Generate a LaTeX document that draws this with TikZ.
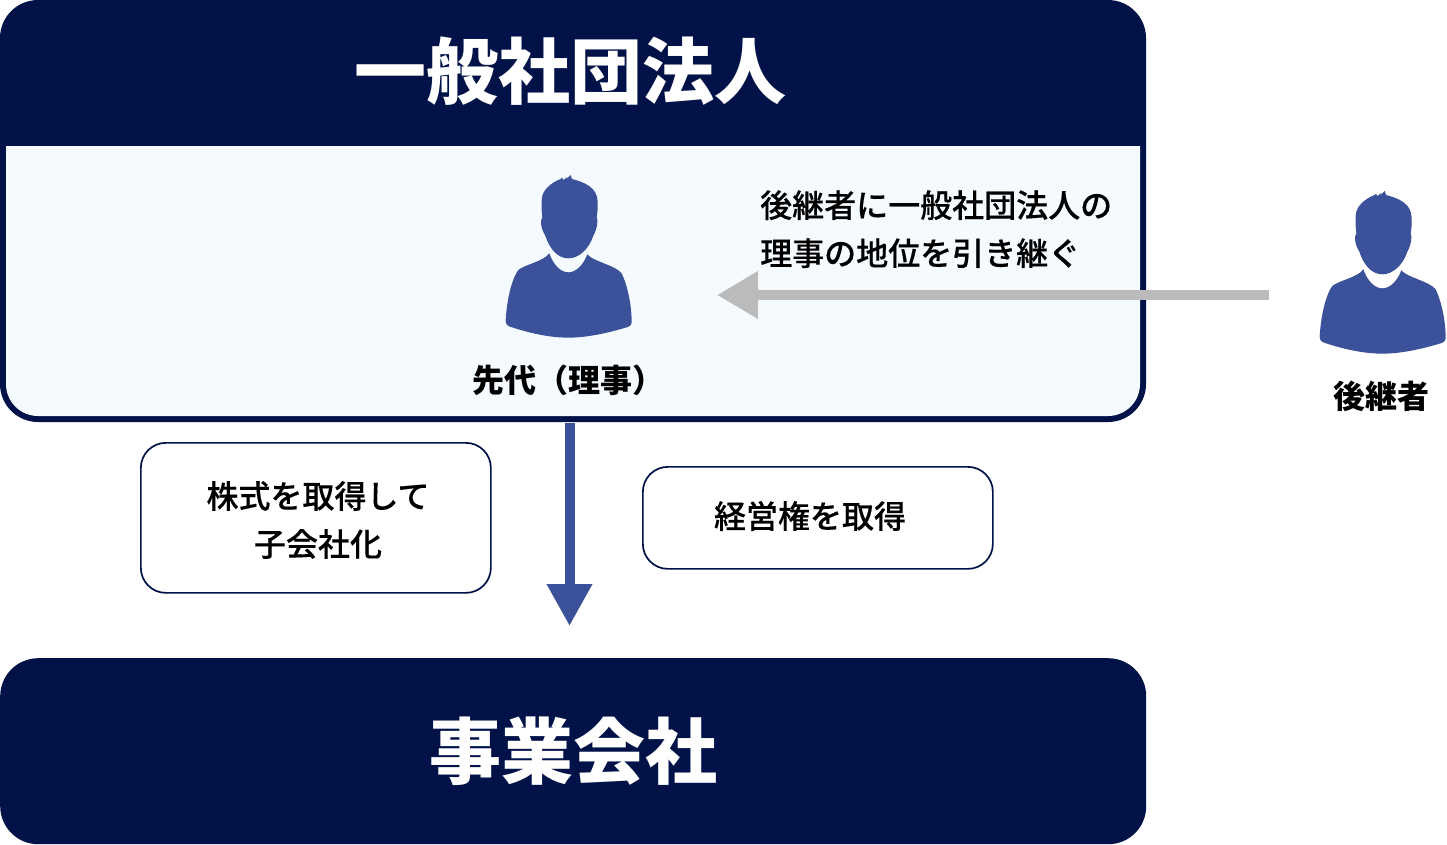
\documentclass[tikz,border=0pt]{standalone}
\usepackage{fontspec}
\setmainfont{Noto Sans CJK JP}
\newfontfamily\medfont[FakeBold=0.25]{Noto Sans CJK JP Medium}
\usetikzlibrary{arrows.meta}
\definecolor{navy}{HTML}{001247}
\definecolor{pale}{HTML}{F5FAFF}
\definecolor{blueish}{HTML}{3B5199}
\definecolor{arrowgray}{HTML}{BBBBBB}
\tikzset{
  x=1pt,y=-1pt,
  big/.style={font=\fontsize{72}{80}\selectfont\bfseries,text=white,inner sep=0pt},
  label/.style={font=\medfont\fontsize{32}{48}\selectfont,text=black,inner sep=0pt,align=left},
  blabel/.style={font=\fontsize{32}{40}\selectfont\bfseries,text=black,inner sep=0pt},
  note/.style={draw=navy,line width=1.7pt,rounded corners=25pt,fill=white,anchor=north west,inner sep=0pt},
  flow/.style={line width=10pt},
  pics/person/.style={code={
    \fill[blueish,x=0.3333pt,y=-0.3333pt]
      (155,105) .. controls (155,75) and (185,52) .. (212,42)
      -- (216,38) -- (220,45) -- (232,36) -- (228,44) -- (242,30) -- (246,42)
      .. controls (285,52) and (322,68) .. (323,110)
      .. controls (324,130) and (322,145) .. (320,157)
      .. controls (325,165) and (322,190) .. (310,212)
      .. controls (298,250) and (268,280) .. (235,280)
      .. controls (202,280) and (178,250) .. (166,212)
      .. controls (152,190) and (150,165) .. (157,157)
      .. controls (155,140) and (154,125) .. (155,105) -- cycle;
    \fill[blueish,x=0.3333pt,y=-0.3333pt]
      (178,265) .. controls (190,300) and (212,322) .. (235,322)
      .. controls (258,322) and (280,300) .. (292,268)
      .. controls (310,290) and (375,300) .. (395,325)
      .. controls (412,360) and (425,420) .. (425,470)
      .. controls (425,480) and (420,484) .. (410,487)
      .. controls (350,505) and (290,518) .. (235,518)
      .. controls (180,518) and (120,505) .. (60,485)
      .. controls (50,482) and (47,475) .. (47,465)
      .. controls (50,420) and (60,350) .. (85,315)
      .. controls (105,298) and (160,290) .. (178,265) -- cycle;
  }}
}
\begin{document}
\begin{tikzpicture}
\useasboundingbox (0,0) rectangle (1447,844);
% upper organisation panel
\fill[navy] (0,38) arc[start angle=180,end angle=90,x radius=38,y radius=-38] -- (1108,0)
  arc[start angle=90,end angle=0,x radius=38,y radius=-38] -- (1146,384)
  arc[start angle=0,end angle=-90,x radius=38,y radius=-38] -- (38,422)
  arc[start angle=-90,end angle=-180,x radius=38,y radius=-38] -- cycle;
\fill[pale] (6,146) -- (1140,146) -- (1140,384)
  arc[start angle=0,end angle=-90,x radius=32,y radius=-32] -- (38,416)
  arc[start angle=-90,end angle=-180,x radius=32,y radius=-32] -- cycle;
\node[big] (org) at (570,71) {一般社団法人};
% lower company panel
\node[fill=navy,rounded corners=38pt,minimum width=1146pt,minimum height=186pt,inner sep=0pt,anchor=north west] (co) at (0,658) {};
\node[big] (coname) at (573,751) {事業会社};
% people
\pic at (490,165) {person};
\pic at (1304,181) {person};
\node[blabel] (senior) at (568,380) {先代（理事）};
\node[blabel] (succ) at (1381.5,396) {後継者};
% connectors
\coordinate (gstart) at (1269,295);
\coordinate (gend) at (717,295);
\draw[flow,arrowgray,-{Triangle[length=41pt,width=45pt]}] (gstart) -- (gend);
\coordinate (bstart) at (569.5,423);
\coordinate (bend) at (569.5,626);
\draw[flow,blueish,-{Triangle[length=42pt,width=43pt]}] (bstart) -- (bend);
% labels
\node[label,anchor=north west] (succtext) at (760,190) {後継者に一般社団法人の\\[0pt]理事の地位を引き継ぐ};
\node[note,minimum width=350pt,minimum height=150pt] (n1) at (140,442) {};
\node[note,minimum width=350pt,minimum height=102pt] (n2) at (642,466) {};
\node[label,align=center] (t1) at (318,520) {株式を取得して\\子会社化};
\node[label] (t2) at (810,516) {経営権を取得};
\end{tikzpicture}
\end{document}
